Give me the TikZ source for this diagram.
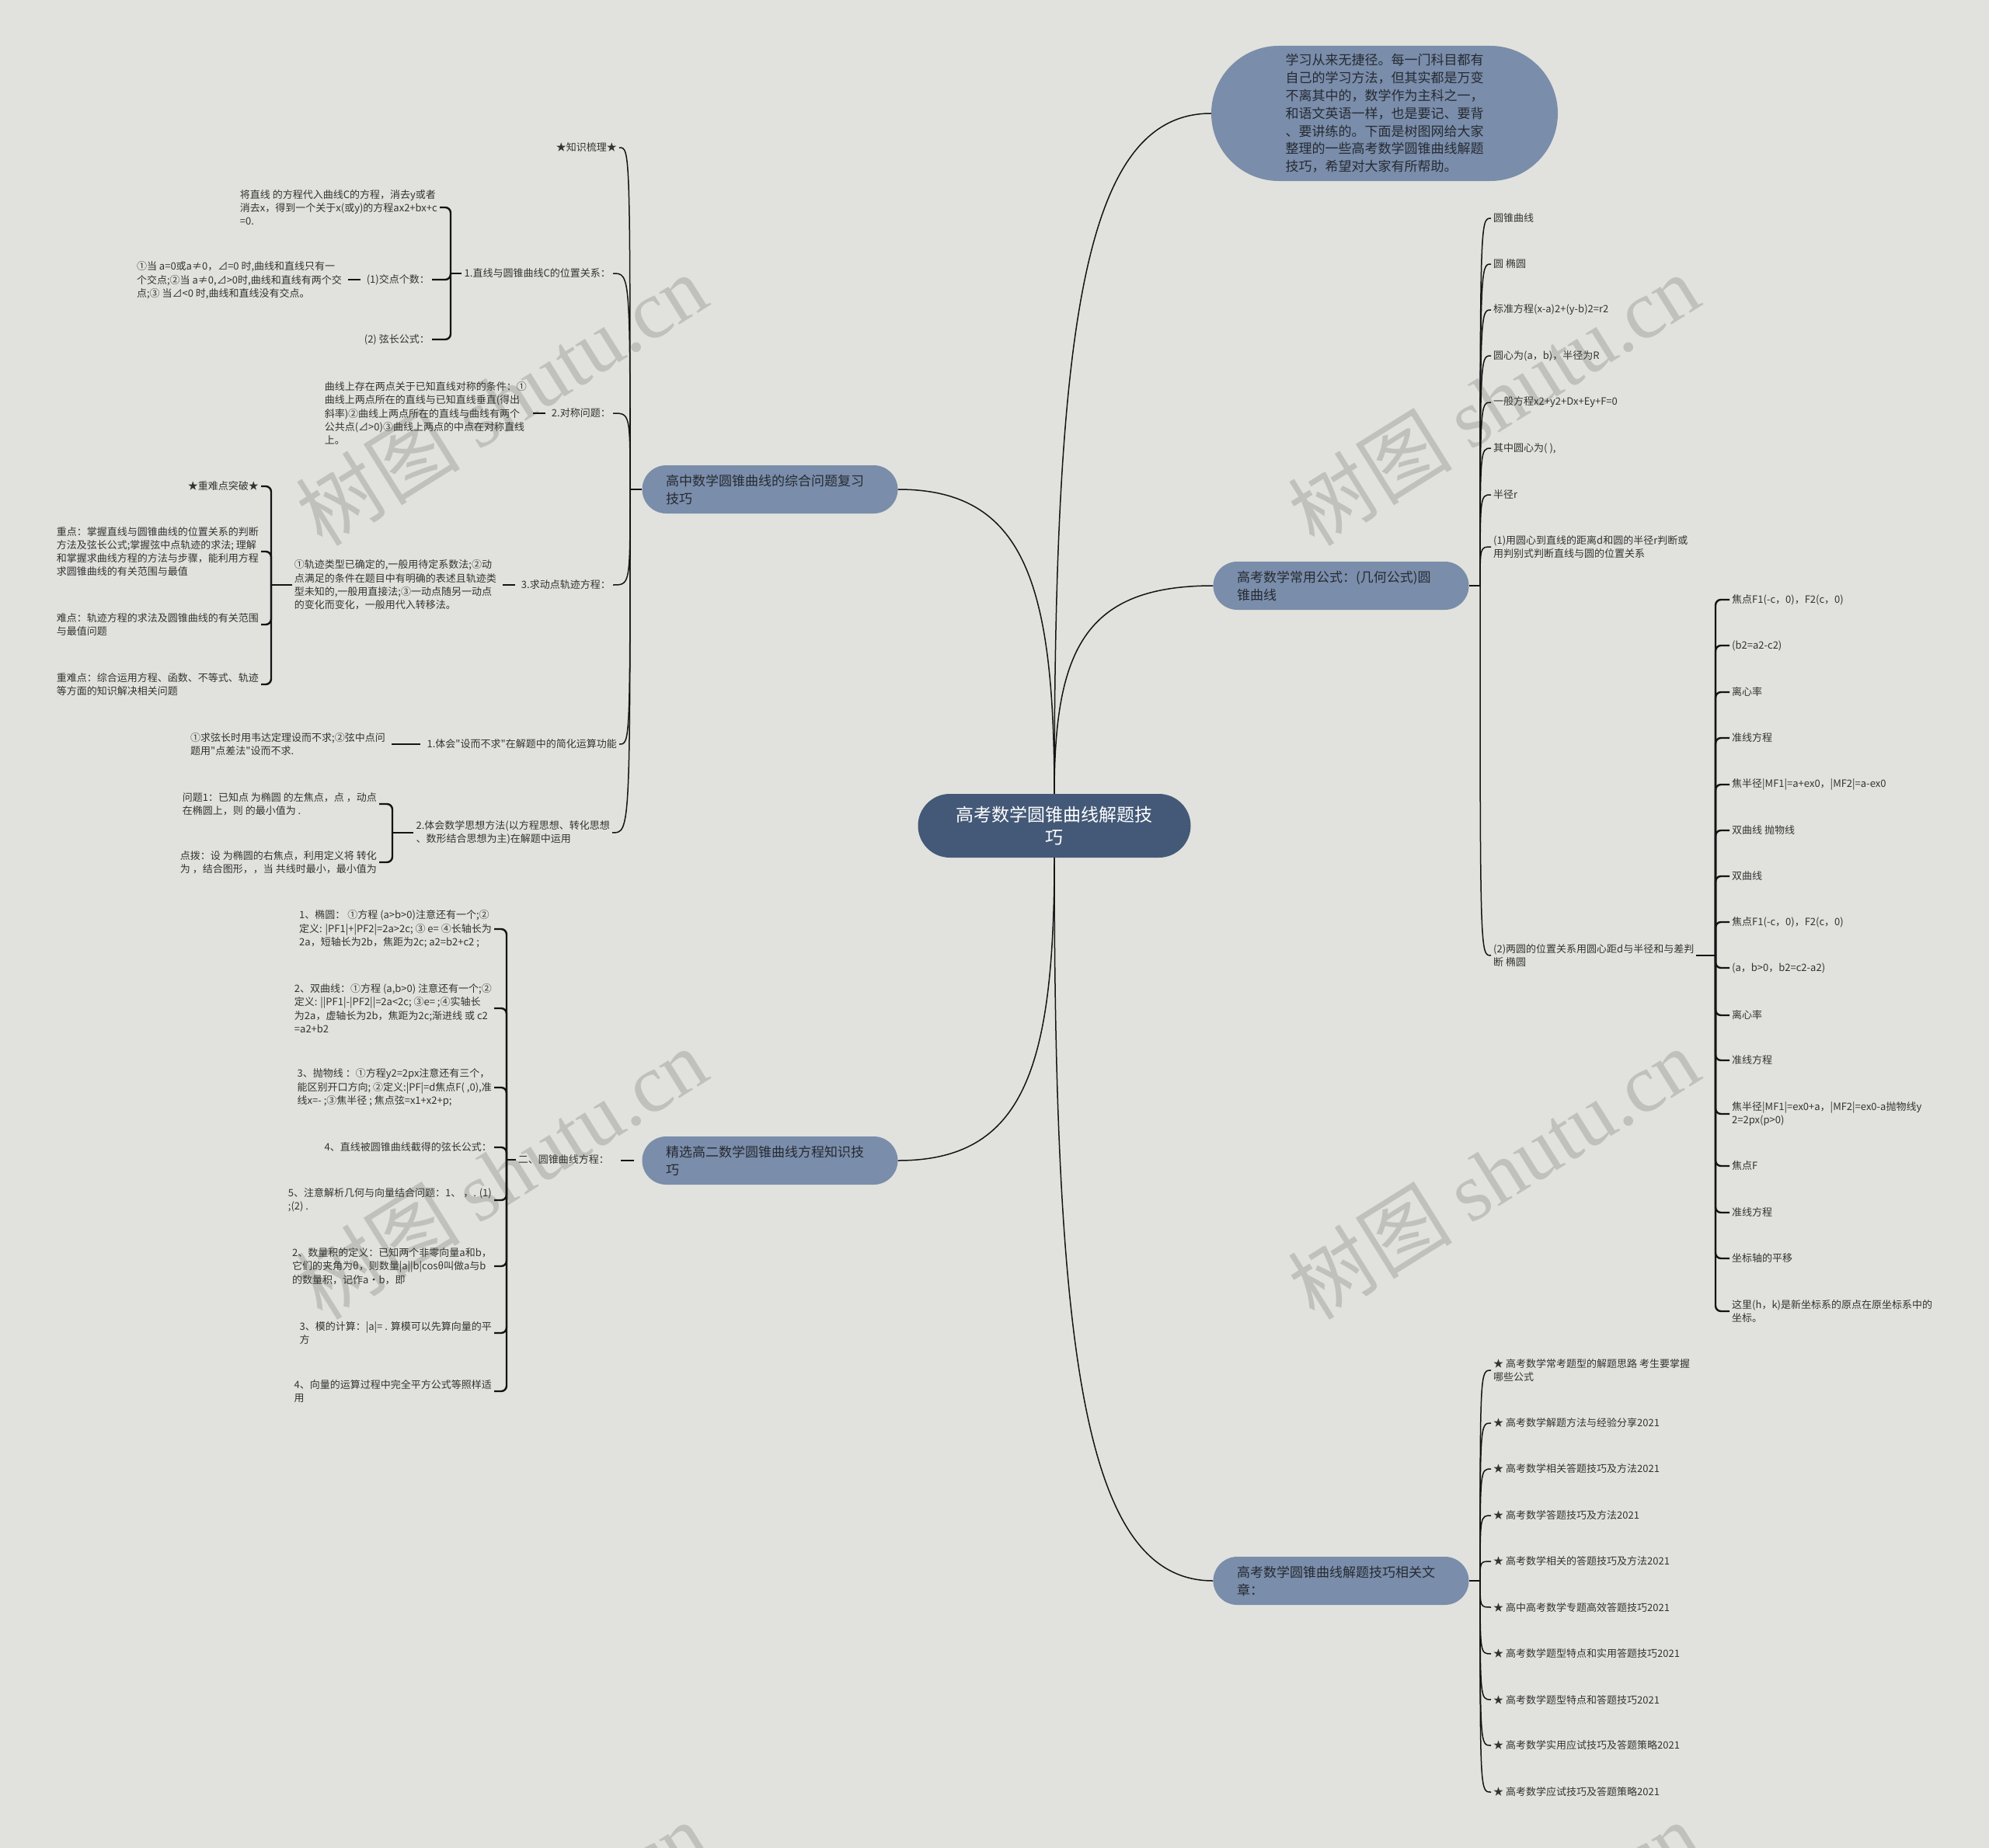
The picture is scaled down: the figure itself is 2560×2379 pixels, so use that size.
\documentclass[tikz,border=0pt]{standalone}
\usepackage{fontspec}
\setmainfont{Noto Sans CJK SC}[Ligatures=TeXOff]
\newfontfamily\wmlatin{Liberation Serif}
\usepackage{tikz}
\usetikzlibrary{calc}
\definecolor{bgcol}{RGB}{225,226,221}
\definecolor{rootcol}{RGB}{67,89,119}
\definecolor{branchcol}{RGB}{122,141,170}
\definecolor{branchtxt}{RGB}{38,42,50}
\definecolor{inkcol}{RGB}{51,51,51}
\definecolor{linecol}{RGB}{20,20,20}
\definecolor{wmcol}{RGB}{192,193,188}
\tikzset{
  every node/.append style={font=\fontsize{13}{17.3}\selectfont, text=inkcol, inner sep=3pt, align=left},
  root/.style={fill=rootcol, text=white, font=\fontsize{23}{29}\selectfont, align=center,
    minimum width=351pt, minimum height=82pt, rounded corners=41pt},
  branch/.style={fill=branchcol, text=branchtxt, font=\fontsize{17}{23}\selectfont, text width=268pt,
    inner xsep=30.5pt, inner ysep=4pt, minimum height=62pt, rounded corners=31pt},
  link/.style={line width=1.5pt, draw=linecol},
  brk/.style={line width=2.4pt, draw=linecol, rounded corners=7pt},
  stub/.style={line width=2.4pt, draw=linecol, shorten <=5pt, shorten >=5pt},
  wmark/.style={text=wmcol, font=\fontsize{106}{106}\selectfont, rotate=32, inner sep=0pt}
}
\begin{document}
\begin{tikzpicture}[x=1pt, y=-1pt]
    \fill[bgcol] (0,0) rectangle (2560,2379);
    \useasboundingbox (0,0) rectangle (2560,2379);
    \clip (0,0) rectangle (2560,2379);
    \foreach \wx in {645,1922} {
        \foreach \wy in {514,1510,2506} {
            \node[wmark] (w\wx\wy) at (\wx,\wy) {树图 {\wmlatin shutu.cn}};
        }
    }

    % main nodes
    \node[root] (c) at (1357,1063) {高考数学圆锥曲线解题技\\巧};
    \node[branch, minimum width=446pt, minimum height=174pt, rounded corners=87pt, text width=255pt,
        font=\fontsize{17}{22.8}\selectfont] (r0) at (1782,146)
        {学习从来无捷径。每一门科目都有\\自己的学习方法，但其实都是万变\\不离其中的，数学作为主科之一，\\和语文英语一样，也是要记、要背\\、要讲练的。下面是树图网给大家\\整理的一些高考数学圆锥曲线解题\\技巧，希望对大家有所帮助。};
    \node[branch] (l1) at (991,630) {高中数学圆锥曲线的综合问题复习\\技巧};
    \node[branch] (l2) at (991,1494) {精选高二数学圆锥曲线方程知识技\\巧};
    \node[branch] (r1) at (1726,754) {高考数学常用公式：(几何公式)圆\\锥曲线};
    \node[branch] (r2) at (1726,2035) {高考数学圆锥曲线解题技巧相关文\\章：};
    \foreach \s/\e/\a in {c.north/r0/west, c.north/l1/east, c.north/r1/west, c.south/l2/east, c.south/r2/west} {
        \coordinate (q) at (\s |- \e.\a);
        \draw[link] (\s) .. controls ($(\s)!0.7!(q)$) and ($(\e.\a)!0.8!(q)$) .. (\e.\a);
    }

    % left upper branch
    \node[anchor=east] (k0) at (797,190) {★知识梳理★};
    \node[anchor=east] (k1) at (789,352) {1.直线与圆锥曲线C的位置关系：};
    \node[anchor=east] (k2) at (789,532) {2.对称问题：};
    \node[anchor=east] (k3) at (789,753) {3.求动点轨迹方程：};
    \node[anchor=east] (k4) at (797,958) {1.体会"设而不求"在解题中的简化运算功能};
    \node[anchor=east] (k5) at (788,1072) {2.体会数学思想方法(以方程思想、转化思想\\、数形结合思想为主)在解题中运用};
    \coordinate (l1j) at (811,630);
    \draw[link] (l1.west) -- (l1j);
    \foreach \k in {k0,k1,k2,k3,k4,k5}
        \draw[link] (l1j) .. controls (l1j |- \k.east) and (l1j |- \k.east) .. (\k.east);

    \node[anchor=east] (k1a) at (566,267) {将直线 的方程代入曲线C的方程，消去y或者\\消去x，得到一个关于x(或y)的方程ax2+bx+c\\=0.};
    \node[anchor=east] (k1b) at (556,360) {(1)交点个数：};
    \node[anchor=east] (k1c) at (556,437) {(2) 弦长公式：};
    \node[anchor=east] (k1b1) at (443,361) {①当 a=0或a≠0，⊿=0 时,曲线和直线只有一\\个交点;②当 a≠0,⊿>0时,曲线和直线有两个交\\点;③ 当⊿<0 时,曲线和直线没有交点。};
    \coordinate (k1j) at (580,352);
    \draw[brk] (k1.west) -- (k1j);
    \foreach \k in {k1a,k1b,k1c}
        \draw[brk] (k1j) |- (\k.east);
    \draw[stub] (k1b.west) -- (k1b.west -| k1b1.east);

    \node[anchor=east] (k2a) at (681,532) {曲线上存在两点关于已知直线对称的条件：①\\曲线上两点所在的直线与已知直线垂直(得出\\斜率)②曲线上两点所在的直线与曲线有两个\\公共点(⊿>0)③曲线上两点的中点在对称直线\\上。};
    \draw[stub] (k2.west) -- (k2.west -| k2a.east);

    \node[anchor=east] (k3a) at (642,753) {①轨迹类型已确定的,一般用待定系数法;②动\\点满足的条件在题目中有明确的表述且轨迹类\\型未知的,一般用直接法;③一动点随另一动点\\的变化而变化，一般用代入转移法。};
    \draw[stub] (k3.west) -- (k3.west -| k3a.east);
    \node[anchor=east] (k3a1) at (336,626) {★重难点突破★};
    \node[anchor=east] (k3a2) at (336,710) {重点：掌握直线与圆锥曲线的位置关系的判断\\方法及弦长公式;掌握弦中点轨迹的求法; 理解\\和掌握求曲线方程的方法与步骤，能利用方程\\求圆锥曲线的有关范围与最值};
    \node[anchor=east] (k3a3) at (336,804) {难点：轨迹方程的求法及圆锥曲线的有关范围\\与最值问题};
    \node[anchor=east] (k3a4) at (336,881) {重难点：综合运用方程、函数、不等式、轨迹\\等方面的知识解决相关问题};
    \coordinate (k3j) at (349,753);
    \draw[brk] (k3a.west) -- (k3j);
    \foreach \k in {k3a1,k3a2,k3a3,k3a4}
        \draw[brk] (k3j) |- (\k.east);

    \node[anchor=east] (k4a) at (499,958) {①求弦长时用韦达定理设而不求;②弦中点问\\题用"点差法"设而不求.};
    \draw[stub] (k4.west) -- (k4.west -| k4a.east);

    \node[anchor=east] (k5a) at (488,1035) {问题1：已知点 为椭圆 的左焦点，点 ，动点\\在椭圆上，则 的最小值为 .};
    \node[anchor=east] (k5b) at (488,1110) {点拨：设 为椭圆的右焦点，利用定义将 转化\\为 ，结合图形，，当 共线时最小，最小值为};
    \coordinate (k5j) at (505,1072);
    \draw[brk] (k5.west) -- (k5j);
    \foreach \k in {k5a,k5b}
        \draw[brk] (k5j) |- (\k.east);

    % left lower branch
    \node[anchor=east] (m0) at (787,1493) {二、圆锥曲线方程：};
    \draw[stub, shorten <=10pt, shorten >=12pt] (l2.west) -- (l2.west -| m0.east);
    \coordinate (m0j) at (652,1493);
    \draw[brk] (m0.west) -- (m0j);
    \foreach \y/\t [count=\i] in {
        1196/{1、椭圆： ①方程 (a>b>0)注意还有一个;②\\定义: |PF1|+|PF2|=2a>2c; ③ e= ④长轴长为\\2a，短轴长为2b，焦距为2c; a2=b2+c2 ;},
        1298/{2、双曲线：①方程 (a,b>0) 注意还有一个;②\\定义: ||PF1|-|PF2||=2a<2c; ③e= ;④实轴长\\为2a，虚轴长为2b，焦距为2c;渐进线 或 c2\\=a2+b2},
        1400/{3、抛物线 ：①方程y2=2px注意还有三个，\\能区别开口方向; ②定义:|PF|=d焦点F( ,0),准\\线x=- ;③焦半径 ; 焦点弦=x1+x2+p;},
        1477/{4、直线被圆锥曲线截得的弦长公式：},
        1545/{5、注意解析几何与向量结合问题：1、 ，. (1)\\;(2) .},
        1630/{2、数量积的定义：已知两个非零向量a和b，\\它们的夹角为θ，则数量|a||b|cosθ叫做a与b\\的数量积，记作a·b，即},
        1716/{3、模的计算：|a|= . 算模可以先算向量的平\\方},
        1791/{4、向量的运算过程中完全平方公式等照样适\\用}} {
        \node[anchor=east] (m\i) at (636,\y) {\t};
        \draw[brk] (m0j) |- (m\i.east);
    }

    % right upper branch
    \coordinate (r1j) at (1905,754);
    \draw[link] (r1.east) -- (r1j);
    \foreach \y/\t [count=\i] in {281/{圆锥曲线}, 340/{圆 椭圆}, 399/{标准方程(x-a)2+(y-b)2=r2},
        458/{圆心为(a，b)，半径为R}, 518/{一般方程x2+y2+Dx+Ey+F=0}, 577/{其中圆心为( ),}, 637/{半径r},
        704/{(1)用圆心到直线的距离d和圆的半径r判断或\\用判别式判断直线与圆的位置关系},
        1230/{(2)两圆的位置关系用圆心距d与半径和与差判\\断 椭圆}} {
        \node[anchor=west] (f\i) at (1919,\y) {\t};
        \draw[link] (r1j) .. controls (r1j |- f\i.west) and (r1j |- f\i.west) .. (f\i.west);
    }
    \coordinate (f9j) at (2208,1230);
    \draw[brk] (f9.east) -- (f9j);
    \foreach \y/\t [count=\i] in {772/{焦点F1(-c，0)，F2(c，0)}, 831/{(b2=a2-c2)}, 891/{离心率}, 950/{准线方程},
        1010/{焦半径|MF1|=a+ex0，|MF2|=a-ex0}, 1069/{双曲线 抛物线}, 1128/{双曲线},
        1187/{焦点F1(-c，0)，F2(c，0)}, 1246/{(a，b>0，b2=c2-a2)}, 1307/{离心率}, 1365/{准线方程},
        1434/{焦半径|MF1|=ex0+a，|MF2|=ex0-a抛物线y\\2=2px(p>0)}, 1501/{焦点F}, 1561/{准线方程},
        1620/{坐标轴的平移}, 1688/{这里(h，k)是新坐标系的原点在原坐标系中的\\坐标。}} {
        \node[anchor=west] (g\i) at (2226,\y) {\t};
        \draw[brk] (f9j) |- (g\i.west);
    }

    % right lower branch
    \coordinate (r2j) at (1905,2035);
    \draw[link] (r2.east) -- (r2j);
    \foreach \y/\t [count=\i] in {1764/{★ 高考数学常考题型的解题思路 考生要掌握\\哪些公式},
        1832/{★ 高考数学解题方法与经验分享2021}, 1891/{★ 高考数学相关答题技巧及方法2021},
        1951/{★ 高考数学答题技巧及方法2021}, 2010/{★ 高考数学相关的答题技巧及方法2021},
        2069/{★ 高中高考数学专题高效答题技巧2021}, 2129/{★ 高考数学题型特点和实用答题技巧2021},
        2188/{★ 高考数学题型特点和答题技巧2021}, 2247/{★ 高考数学实用应试技巧及答题策略2021},
        2307/{★ 高考数学应试技巧及答题策略2021}} {
        \node[anchor=west] (a\i) at (1919,\y) {\t};
        \draw[link] (r2j) .. controls (r2j |- a\i.west) and (r2j |- a\i.west) .. (a\i.west);
    }
\end{tikzpicture}
\end{document}
